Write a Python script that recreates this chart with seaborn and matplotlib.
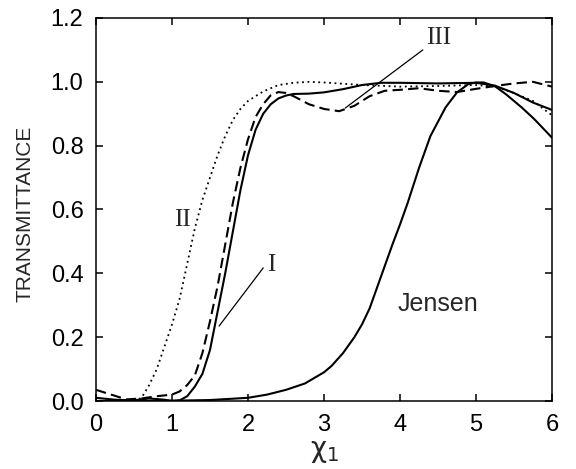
import matplotlib
matplotlib.use("Agg")
import matplotlib.pyplot as plt
import numpy as np
import seaborn as sns

# Curve I (solid)
x_sol = [0, 0.25, 0.5, 0.7, 0.9, 1.0, 1.1, 1.2, 1.3, 1.4, 1.5, 1.6, 1.7, 1.8, 1.9, 2.0,
         2.1, 2.2, 2.3, 2.4, 2.5, 2.6, 2.8, 3.0, 3.25, 3.5, 3.75, 4.0, 4.5, 5.0, 5.25,
         5.5, 5.75, 6.0]
y_sol = [0.01, 0.004, 0.002, 0.008, 0.004, 0.0, 0.002, 0.015, 0.045, 0.085, 0.16, 0.28,
         0.40, 0.53, 0.66, 0.77, 0.85, 0.9, 0.93, 0.948, 0.957, 0.962, 0.963, 0.967, 0.977,
         0.99, 0.997, 0.997, 0.995, 0.997, 0.988, 0.965, 0.935, 0.912]

# Curve I (dashed)
x_dash = [0, 0.2, 0.4, 0.6, 0.8, 1.0, 1.1, 1.2, 1.3, 1.4, 1.5, 1.6, 1.7, 1.8, 1.9, 2.0,
          2.1, 2.2, 2.3, 2.4, 2.5, 2.6, 2.8, 3.0, 3.2, 3.4, 3.6, 3.8, 4.0, 4.25, 4.5,
          4.75, 5.0, 5.25, 5.5, 5.75, 6.0]
y_dash = [0.035, 0.02, 0.005, 0.008, 0.015, 0.02, 0.03, 0.05, 0.08, 0.15, 0.25, 0.36, 0.49,
          0.62, 0.73, 0.82, 0.89, 0.93, 0.958, 0.968, 0.965, 0.955, 0.93, 0.915, 0.908,
          0.925, 0.955, 0.972, 0.975, 0.98, 0.972, 0.968, 0.978, 0.987, 0.995, 1.0, 0.985]

# Curve II (dotted)
x_dot = [0, 0.5, 0.6, 0.7, 0.8, 0.9, 1.0, 1.1, 1.2, 1.3, 1.4, 1.5, 1.6, 1.7, 1.8, 1.9,
         2.0, 2.2, 2.4, 2.6, 2.8, 3.0, 3.5, 4.0, 4.5, 5.0, 5.25, 5.5, 5.75, 6.0]
y_dot = [0, 0, 0.01, 0.05, 0.1, 0.17, 0.24, 0.32, 0.43, 0.54, 0.63, 0.70, 0.77, 0.83,
         0.88, 0.915, 0.94, 0.97, 0.99, 0.997, 1.0, 0.998, 0.99, 0.985, 0.987, 0.99, 0.985,
         0.965, 0.94, 0.895]

# Jensen (solid)
x_jen = [0, 0.5, 1.0, 1.5, 2.0, 2.25, 2.5, 2.75, 3.0, 3.1, 3.25, 3.4, 3.5, 3.6, 3.75,
         3.9, 4.0, 4.1, 4.25, 4.4, 4.5, 4.6, 4.75, 4.9, 5.0, 5.1, 5.25, 5.4, 5.5, 5.6,
         5.75, 5.8, 5.9, 6.0]
y_jen = [0, 0, 0.001, 0.003, 0.01, 0.02, 0.035, 0.055, 0.09, 0.11, 0.15, 0.20, 0.24, 0.29,
         0.39, 0.49, 0.553, 0.62, 0.73, 0.83, 0.875, 0.92, 0.967, 0.993, 0.998, 0.998, 0.986,
         0.96, 0.94, 0.92, 0.887, 0.875, 0.85, 0.825]

sns.set_style("ticks")
plt.rcParams["font.family"] = ["Liberation Sans", "DejaVu Sans"]
plt.rcParams["mathtext.fontset"] = "custom"
plt.rcParams["mathtext.rm"] = "DejaVu Sans"
plt.rcParams["mathtext.it"] = "DejaVu Sans"

fig = plt.figure(figsize=(5.76, 4.69), dpi=100)
ax = fig.add_axes([96 / 576, 1 - 401 / 469, 456 / 576, 383 / 469])

sns.lineplot(x=x_sol, y=y_sol, ax=ax, color="black", lw=1.5)
sns.lineplot(x=x_jen, y=y_jen, ax=ax, color="black", lw=1.5)
sns.lineplot(x=x_dash, y=y_dash, ax=ax, color="black", lw=1.5, linestyle=(0, (5, 2.5)))
sns.lineplot(x=x_dot, y=y_dot, ax=ax, color="black", lw=1.3, linestyle=(0, (1, 2)))

ax.set_xlim(0, 6)
ax.set_ylim(0, 1.2)
ax.set_xticks(range(7))
ax.set_yticks(np.arange(0, 1.21, 0.2))
ax.set_yticklabels([f"{v:.1f}" for v in np.arange(0, 1.21, 0.2)])
ax.tick_params(direction="in", top=True, right=True, labelsize=17, length=5, width=1.1,
               colors="black")
ax.tick_params(axis="x", pad=9)
ax.tick_params(axis="y", pad=9)
for s in ax.spines.values():
    s.set_linewidth(1.1)
    s.set_color("black")

ax.set_xlabel(r"$\chi_1$", fontsize=20)
ax.xaxis.set_label_coords(0.5, -0.098)
ax.set_ylabel("TRANSMITTANCE", fontsize=15)
ax.yaxis.set_label_coords(-0.156, 0.49)
ax.yaxis.label.set_va("center")

serif = ["Liberation Serif", "DejaVu Serif"]
ax.text(1.14, 0.567, "II", fontsize=18, family=serif, ha="center", va="center")
ax.text(2.30, 0.426, "I", fontsize=18, family=serif, ha="center", va="center")
ax.text(4.51, 1.138, "III", fontsize=18, family=serif, ha="center", va="center")
ax.text(4.5, 0.304, "Jensen", fontsize=18, ha="center", va="center")

ax.plot([2.2, 1.62], [0.417, 0.235], color="black", lw=0.9)
ax.plot([4.3, 3.28], [1.10, 0.918], color="black", lw=0.9)

fig.savefig("out.png", dpi=100)
